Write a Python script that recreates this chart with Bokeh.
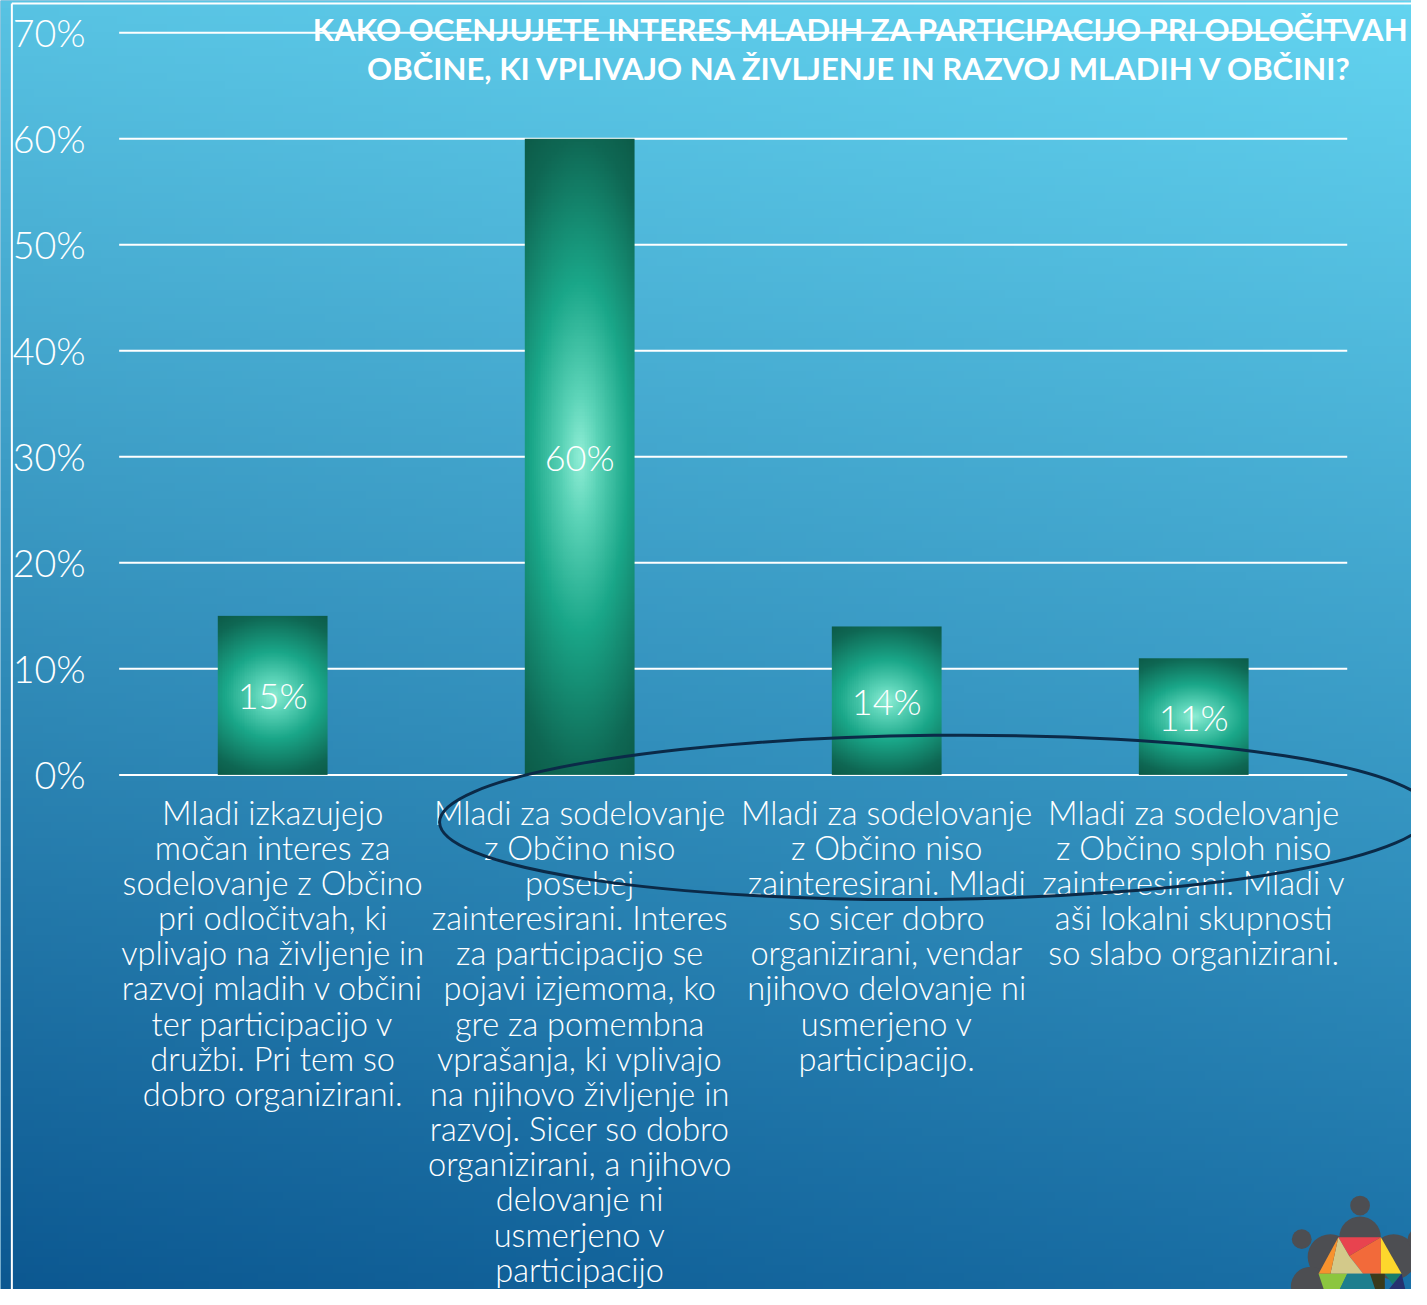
import numpy as np
from bokeh.plotting import figure
from bokeh.models import Range1d
from bokeh.core.properties import value
from bokeh.embed import file_html
from bokeh.resources import INLINE

# ---------------- data ----------------
categories = [
    "Mladi izkazujejo\nmočan interes za\nsodelovanje z Občino\npri odločitvah, ki\nvplivajo na življenje in\nrazvoj mladih v občini\nter participacijo v\ndružbi. Pri tem so\ndobro organizirani.",
    "Mladi za sodelovanje\nz Občino niso\nposebej\nzainteresirani. Interes\nza participacijo se\npojavi izjemoma, ko\ngre za pomembna\nvprašanja, ki vplivajo\nna njihovo življenje in\nrazvoj. Sicer so dobro\norganizirani, a njihovo\ndelovanje ni\nusmerjeno v\nparticipacijo",
    "Mladi za sodelovanje\nz Občino niso\nzainteresirani. Mladi\nso sicer dobro\norganizirani, vendar\nnjihovo delovanje ni\nusmerjeno v\nparticipacijo.",
    "Mladi za sodelovanje\nz Občino sploh niso\nzainteresirani. Mladi v\naši lokalni skupnosti\nso slabo organizirani.",
]
values = [0.15, 0.60, 0.14, 0.11]
bar_labels = ["15%", "60%", "14%", "11%"]
tick_values = [0.0, 0.1, 0.2, 0.3, 0.4, 0.5, 0.6, 0.7]
tick_labels = ["0%", "10%", "20%", "30%", "40%", "50%", "60%", "70%"]
title_lines = [
    "KAKO OCENJUJETE INTERES MLADIH ZA PARTICIPACIJO PRI ODLOČITVAH",
    "OBČINE, KI VPLIVAJO NA ŽIVLJENJE IN RAZVOJ MLADIH V OBČINI?",
]

# ---------------- layout helpers ----------------
W, H = 1411, 1289
RW, RH = 1427, 1305          # design canvas
S = W / RW                   # screen scale
PXX = 310.5                  # design px per category
PXY = 1073.3                 # design px per 100%
X0, Y0 = 120.0, 784.0


def dx(px):
    return (px - X0) / PXX


def dy(py):
    return (Y0 - py) / PXY


def fs(px):
    return "%.1fpx" % (px * S)


LIGHT = "Lato Light, Lato"
BOLD = "Lato"

p = figure(width=W, height=H, output_backend="svg", toolbar_location=None,
           x_range=Range1d(dx(0), dx(RW)), y_range=Range1d(dy(RH), dy(0)),
           x_axis_type=None, y_axis_type=None, min_border=0)
p.outline_line_color = None
p.background_fill_color = "#3592BF"
p.border_fill_color = "#3592BF"
p.grid.visible = False


def pack(rgb):
    ny, nx, _ = rgb.shape
    a = np.empty((ny, nx, 4), dtype=np.uint8)
    a[..., :3] = np.clip(rgb, 0, 255).astype(np.uint8)
    a[..., 3] = 255
    return a.view(np.uint32).reshape(ny, nx)


# background gradient
TL = np.array([0x58, 0xC3, 0xE3], float)
TR = np.array([0x63, 0xD4, 0xF0], float)
BL = np.array([0x0C, 0x58, 0x91], float)
BR = np.array([0x1A, 0x70, 0xA6], float)
ny, nx = 160, 170
u = np.linspace(0, 1, nx)[None, :, None]
v = np.linspace(0, 1, ny)[:, None, None]
bg = (1 - v) * ((1 - u) * BL + u * BR) + v * ((1 - u) * TL + u * TR)
p.image_rgba(image=[pack(bg)], x=dx(0), y=dy(RH), dw=dx(RW) - dx(0), dh=dy(0) - dy(RH))

# frame lines
p.segment(x0=[dx(11.5), dx(11.5)], y0=[dy(3), dy(3)], x1=[dx(11.5), dx(RW)], y1=[dy(RH), dy(3)],
          line_color="white", line_width=2)

# grid lines
p.segment(x0=[0] * len(tick_values), y0=tick_values, x1=[len(values)] * len(tick_values), y1=tick_values,
          line_color="white", line_width=2)

# bars with radial gradient
bny, bnx = 200, 60
bu = np.linspace(-1, 1, bnx)[None, :]
bv = np.linspace(-1, 1, bny)[:, None]
r = np.sqrt((0.62 * bu) ** 2 + bv ** 2)
stops_r = [0.0, 0.2, 0.55, 1.0, 1.2]
stops_c = [(0x90, 0xEE, 0xD6), (0x5C, 0xD4, 0xB8), (0x1A, 0xA7, 0x89), (0x0F, 0x68, 0x54), (0x0C, 0x5A, 0x47)]
brgb = np.stack([np.interp(r, stops_r, [c[k] for c in stops_c]) for k in range(3)], axis=-1)
bimg = pack(brgb)
bar_w = 111 / PXX
centers = [i + 0.5 for i in range(len(values))]
p.image_rgba(image=[bimg] * len(values), x=[c - bar_w / 2 for c in centers], y=[0] * len(values),
             dw=[bar_w] * len(values), dh=values)

# bar value labels
p.text(x=centers, y=[val / 2 for val in values], text=bar_labels, text_align="center",
       text_baseline="middle", text_font=value(LIGHT), text_font_size=fs(36.5), text_color="white")

# y tick labels
p.text(x=[dx(86)] * len(tick_values), y=tick_values, text=tick_labels, text_align="right",
       text_baseline="middle", text_font=value(LIGHT), text_font_size=fs(38), text_color="white")

# category labels
CAT_FS = 33.0
p.text(x=centers, y=[dy(802)] * len(categories), text=categories, text_align="center",
       text_baseline="top", text_font=value(LIGHT), text_font_size=fs(CAT_FS),
       text_line_height=35.7 / (CAT_FS * 1.2), text_color="white")

# title
p.text(x=[dx(870)] * 2, y=[dy(29), dy(68)], text=title_lines, text_align="center",
       text_baseline="middle", text_font=value(BOLD), text_font_style="bold",
       text_font_size=fs(31.5), text_color="white")

# highlight ellipse
p.ellipse(x=[dx(945)], y=[dy(827)], width=[1002 * S], height=[166 * S], angle=[0.01],
          width_units="screen", height_units="screen", fill_alpha=0,
          line_color="#0B2A48", line_width=3)

# logo (decorative)
GREY = "#4D4E52"
circ = [(1375, 1220, 10), (1375, 1252, 21), (1316, 1254, 10), (1345, 1272, 23),
        (1409, 1272, 23), (1433, 1254, 10), (1325, 1302, 20)]
p.circle(x=[dx(c[0]) for c in circ], y=[dy(c[1]) for c in circ], radius=[c[2] * S for c in circ],
         radius_units="screen", fill_color=GREY, line_color=None)
polys = [
    ([(1353, 1252), (1396, 1252), (1364, 1271)], "#E8434F"),
    ([(1364, 1271), (1396, 1252), (1396, 1289), (1378, 1289)], "#F26A3A"),
    ([(1396, 1252), (1417, 1289), (1396, 1289)], "#FDD72C"),
    ([(1353, 1252), (1364, 1271), (1378, 1289), (1345, 1289)], "#D3C98A"),
    ([(1353, 1252), (1333, 1289), (1345, 1289)], "#F7922E"),
    ([(1333, 1289), (1362, 1289), (1352, 1310), (1340, 1310)], "#8CC63F"),
    ([(1362, 1289), (1385, 1289), (1392, 1310), (1352, 1310)], "#1E7E8E"),
    ([(1385, 1289), (1400, 1289), (1400, 1310), (1392, 1310)], "#3B3B1C"),
    ([(1400, 1289), (1417, 1289), (1408, 1300)], "#197C6B"),
    ([(1408, 1300), (1417, 1289), (1422, 1310), (1400, 1310)], "#26316F"),
]
p.patches(xs=[[dx(a) for a, b in pts] for pts, c in polys], ys=[[dy(b) for a, b in pts] for pts, c in polys],
          fill_color=[c for pts, c in polys], line_color=None)

open("out.html", "w").write(file_html(p, INLINE))
